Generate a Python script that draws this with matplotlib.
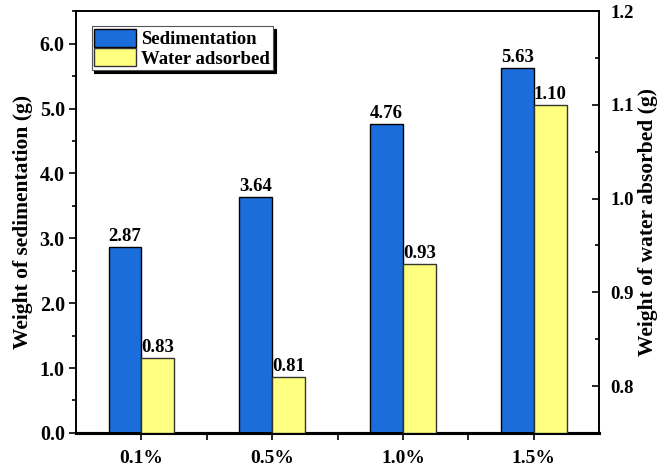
import numpy as np
import matplotlib
matplotlib.use("Agg")
import matplotlib.pyplot as plt
from matplotlib.ticker import MultipleLocator, FixedLocator

plt.rcParams['font.family'] = ['Liberation Serif', 'DejaVu Serif']
plt.rcParams['font.weight'] = 'bold'

categories = ['0.1%', '0.5%', '1.0%', '1.5%']
sedimentation = [2.87, 3.64, 4.76, 5.63]
water = [0.83, 0.81, 0.93, 1.10]

blue = '#1c6ddc'
yellow = '#ffff80'

x = np.arange(1, len(categories) + 1)
w = 0.25

fig = plt.figure(figsize=(6.6, 4.67), dpi=100)
ax = fig.add_axes([0.115, 0.073, 0.793, 0.903])
ax2 = ax.twinx()

b1 = ax.bar(x - w / 2, sedimentation, w, color=blue, edgecolor='black', linewidth=1, label='Sedimentation', zorder=3)
b2 = ax2.bar(x + w / 2, np.array(water) - 0.75, w, bottom=0.75, color=yellow, edgecolor='#333333',
             linewidth=1, label='Water adsorbed', zorder=3)

# value labels on top of each bar
for xi, v in zip(x, sedimentation):
    ax.text(xi - w / 2, v + 0.03, f'{v:.2f}', ha='center', va='bottom', fontsize=13.5, fontweight='bold')
for xi, v in zip(x, water):
    ax2.text(xi + w / 2, v + 0.002, f'{v:.2f}', ha='center', va='bottom', fontsize=13.5, fontweight='bold')

ax.set_xlim(0.5, 4.5)
ax.set_ylim(0, 6.5)
ax2.set_ylim(0.75, 1.2)

ax.set_xticks(x)
ax.set_xticklabels(categories, fontsize=14, fontweight='bold')
ax.xaxis.set_minor_locator(FixedLocator([1.5, 2.5, 3.5]))
ax.set_yticks([0, 1, 2, 3, 4, 5, 6])
ax.set_yticklabels([f'{v:.1f}' for v in range(7)], fontsize=14.5, fontweight='bold')
ax.yaxis.set_minor_locator(MultipleLocator(0.5))

ax2.set_yticks([0.8, 0.9, 1.0, 1.1, 1.2])
ax2.set_yticklabels(['0.8', '0.9', '1.0', '1.1', '1.2'], fontsize=13.5, fontweight='bold')
ax2.yaxis.set_minor_locator(MultipleLocator(0.05))

ax.tick_params(axis='x', which='major', direction='out', length=5, width=1.2, pad=7)
ax.tick_params(axis='x', which='minor', direction='out', length=5, width=1.2)
ax.tick_params(axis='y', which='major', direction='out', length=5, width=1.2, pad=3)
ax.tick_params(axis='y', which='minor', direction='out', length=3, width=1.2)
ax2.tick_params(axis='y', which='major', direction='in', length=5, width=1.2, pad=8)
ax2.tick_params(axis='y', which='minor', direction='in', length=3, width=1.2)

ax.set_ylabel('Weight of sedimentation (g)', fontsize=15.5, fontweight='bold', labelpad=5)
ax2.set_ylabel('Weight of water absorbed (g)', fontsize=15.5, fontweight='bold', labelpad=3)

for a in (ax, ax2):
    for s in a.spines.values():
        s.set_linewidth(1.2)
    a.spines['bottom'].set_linewidth(2.2)

leg = ax.legend([b1, b2], ['Sedimentation', 'Water adsorbed'], loc='upper left',
                bbox_to_anchor=(0.03, 0.965), fontsize=13.5, frameon=True, fancybox=False,
                shadow={'color': 'black', 'alpha': 1.0, 'shade': 0}, edgecolor='#555555',
                handlelength=2.2, handleheight=1.1, handletextpad=0.3, labelspacing=0.0,
                borderpad=0.15, borderaxespad=0)
leg.get_frame().set_linewidth(0.8)
leg.set_zorder(10)

fig.savefig('out.png', dpi=100)
